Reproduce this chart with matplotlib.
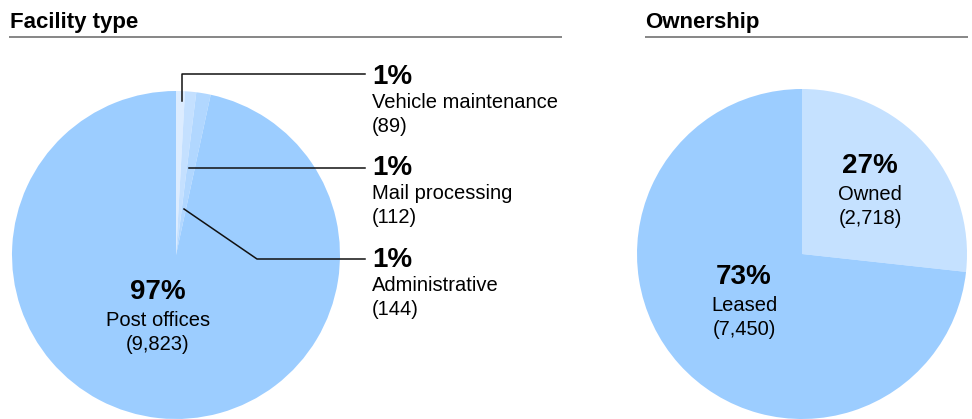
import matplotlib
matplotlib.use("Agg")
import matplotlib.pyplot as plt

plt.rcParams['font.family'] = ['Liberation Sans', 'DejaVu Sans']

# Data
facility_labels = ["Vehicle maintenance", "Mail processing", "Administrative", "Post offices"]
facility_counts = [89, 112, 144, 9823]
facility_pcts = ["1%", "1%", "1%", "97%"]
facility_colors = ["#dcecff", "#c4e0ff", "#b1d7ff", "#9ccdff"]

owner_labels = ["Owned", "Leased"]
owner_counts = [2718, 7450]
owner_pcts = ["27%", "73%"]
owner_colors = ["#c5e1ff", "#9ccdff"]

W, H = 972, 419
fig = plt.figure(figsize=(W / 100, H / 100), dpi=100)
ax = fig.add_axes([0, 0, 1, 1])

def Y(p):
    return H - p

ax.pie(facility_counts, center=(176, Y(255)), radius=164, startangle=90,
       counterclock=False, colors=facility_colors,
       wedgeprops=dict(linewidth=0))
ax.pie(owner_counts, center=(802, Y(254)), radius=165, startangle=90,
       counterclock=False, colors=owner_colors,
       wedgeprops=dict(linewidth=0))

ax.set_xlim(0, W)
ax.set_ylim(0, H)
ax.set_aspect('auto')
ax.axis('off')

# Titles and rules
ax.text(10, Y(28), "Facility type", fontsize=16, fontweight='bold', va='baseline', ha='left')
ax.plot([9, 562], [Y(37), Y(37)], color='#666666', lw=1.1, solid_capstyle='butt')
ax.text(645, Y(28), "Ownership", fontsize=16, fontweight='bold', va='baseline', ha='left')
ax.plot([645, 968], [Y(37), Y(37)], color='#666666', lw=1.1, solid_capstyle='butt')

# Leader lines
lc = '#111111'
ax.plot([181.5, 181.5, 365], [Y(101), Y(74), Y(74)], color=lc, lw=1.1)
ax.plot([189, 365], [Y(168), Y(168)], color=lc, lw=1.1)
ax.plot([184, 257, 365], [Y(209), Y(259), Y(259)], color=lc, lw=1.1)

PCT = 20
LAB = 14.5

# Small-slice labels (baselines)
small_base = [84, 175, 267]
for i, b in enumerate(small_base):
    ax.text(372, Y(b), facility_pcts[i], fontsize=PCT, fontweight='bold', va='baseline', ha='left')
    ax.text(372, Y(b + 24), facility_labels[i], fontsize=LAB, va='baseline', ha='left')
    ax.text(372, Y(b + 48), f"({facility_counts[i]:,})", fontsize=LAB, va='baseline', ha='left')

def inside(x, b, pct, label, count):
    ax.text(x, Y(b), pct, fontsize=PCT, fontweight='bold', va='baseline', ha='center')
    ax.text(x, Y(b + 27), label, fontsize=LAB, va='baseline', ha='center')
    ax.text(x, Y(b + 51), f"({count:,})", fontsize=LAB, va='baseline', ha='center')

inside(158, 299, facility_pcts[3], facility_labels[3], facility_counts[3])
inside(870, 173, owner_pcts[0], owner_labels[0], owner_counts[0])
inside(744, 284, owner_pcts[1], owner_labels[1], owner_counts[1])

fig.savefig("out.png", dpi=100)
